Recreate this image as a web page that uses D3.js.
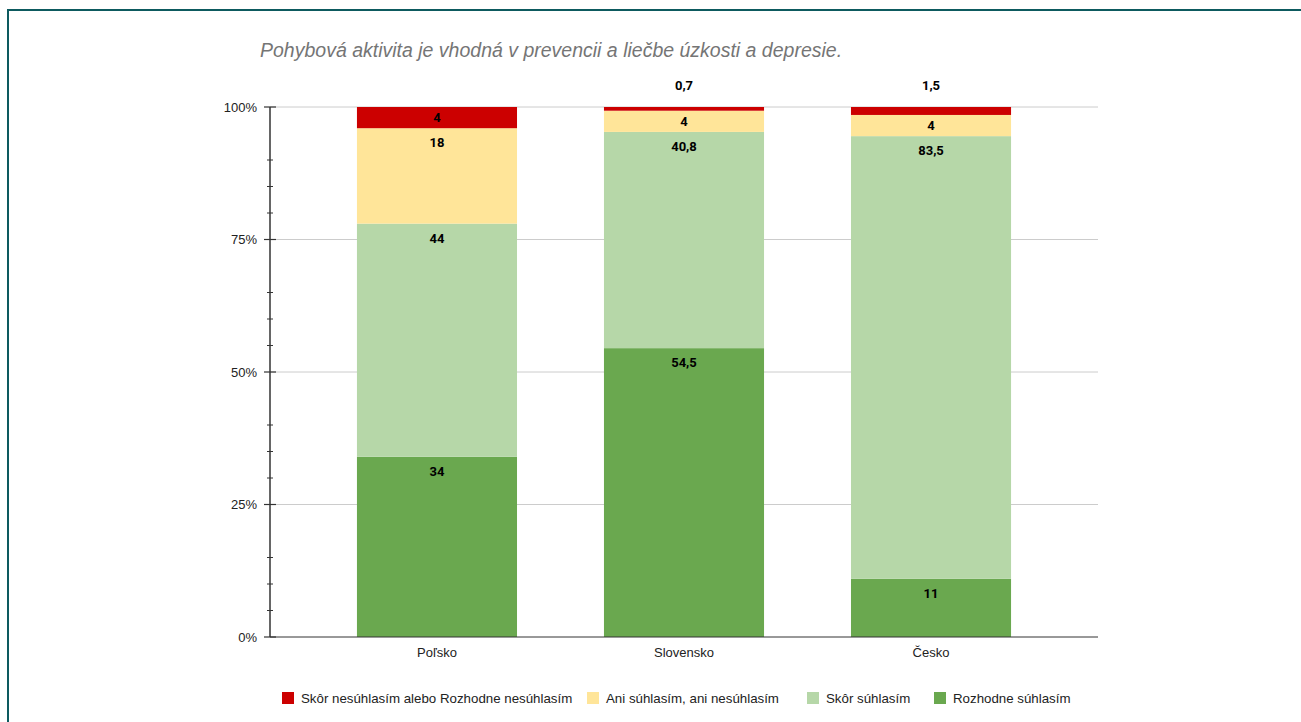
<!DOCTYPE html>
<html><head><meta charset="utf-8">
<script src="https://cdn.jsdelivr.net/npm/d3@7"></script>
<style>
html,body{margin:0;padding:0;background:#fff;}
svg{display:block;}
</style></head>
<body>
<svg id="chart" width="1301" height="722"></svg>
<script>
const title = "Pohybová aktivita je vhodná v prevencii a liečbe úzkosti a depresie.";
const categories = ["Poľsko", "Slovensko", "Česko"];
const seriesNames = ["Rozhodne súhlasím", "Skôr súhlasím", "Ani súhlasím, ani nesúhlasím", "Skôr nesúhlasím alebo Rozhodne nesúhlasím"];
const rozhodneSuhlasim = [34, 54.5, 11];
const skorSuhlasim = [44, 40.8, 83.5];
const aniAni = [18, 4, 4];
const nesuhlasim = [4, 0.7, 1.5];
const seriesColors = ["#6aa84f", "#b6d7a8", "#ffe599", "#cc0000"];
const legendOrder = [3, 2, 1, 0];
const yTicks = [0, 25, 50, 75, 100];
const yMinorTicks = [5, 10, 15, 30, 35, 40, 55, 60, 65, 80, 85, 90];

const seriesValues = [rozhodneSuhlasim, skorSuhlasim, aniAni, nesuhlasim];
const rows = categories.map((c, i) => {
  const r = {cat: c};
  seriesNames.forEach((s, j) => r[s] = seriesValues[j][i]);
  return r;
});
const stacked = d3.stack().keys(seriesNames)(rows);

const svg = d3.select("#chart");
// outer frame
svg.append("rect").attr("x", 8).attr("y", 10).attr("width", 1400).attr("height", 800)
  .attr("fill", "none").attr("stroke", "#0d5a5f").attr("stroke-width", 2);

const pLeft = 270, pRight = 1098, pTop = 107, pBottom = 637;
const x = d3.scaleBand().domain(categories).range([pLeft, pRight]).padding(0.352);
const y = d3.scaleLinear().domain([0, 100]).range([pBottom, pTop]);

// title
svg.append("text").attr("x", 260).attr("y", 57).text(title)
  .attr("font-family", "Liberation Sans, Arial, sans-serif").attr("font-style", "italic")
  .attr("font-size", 19.5).attr("fill", "#757575");

// gridlines
svg.append("g").selectAll("line").data(yTicks.filter(t => t > 0)).join("line")
  .attr("x1", pLeft).attr("x2", pRight).attr("y1", d => y(d)).attr("y2", d => y(d))
  .attr("stroke", "#cccccc").attr("stroke-width", 1);

// bars
const g = svg.append("g");
stacked.forEach((layer, j) => {
  g.append("g").attr("fill", seriesColors[j]).selectAll("rect").data(layer).join("rect")
    .attr("x", d => x(d.data.cat)).attr("width", x.bandwidth())
    .attr("y", d => y(d[1])).attr("height", d => y(d[0]) - y(d[1]));
});

// labels
const labelFmt = v => String(v).replace(".", ",");
stacked.forEach((layer, j) => {
  layer.forEach(d => {
    const v = d[1] - d[0];
    const yt = y(d[1]), yb = y(d[0]);
    const h = yb - yt;
    let cy;
    if (h < 12) cy = pTop - 22;
    else cy = Math.min(yt + 14.5, (yt + yb) / 2);
    svg.append("text").attr("x", x(d.data.cat) + x.bandwidth() / 2).attr("y", cy)
      .attr("dy", "0.36em").attr("text-anchor", "middle")
      .attr("font-family", "Roboto, sans-serif").attr("font-weight", "bold")
      .attr("font-size", 13).attr("fill", "#000").text(labelFmt(Math.round(v * 10) / 10));
  });
});

// y axis
const yAxisG = svg.append("g");
yAxisG.append("line").attr("x1", pLeft).attr("x2", pLeft).attr("y1", pTop).attr("y2", pBottom)
  .attr("stroke", "#333").attr("stroke-width", 1.5);
yAxisG.selectAll(".maj").data(yTicks).join("line").attr("class", "maj")
  .attr("x1", pLeft - 6).attr("x2", pLeft + 6).attr("y1", d => y(d)).attr("y2", d => y(d))
  .attr("stroke", "#333").attr("stroke-width", 1.2);
yAxisG.selectAll(".min").data(yMinorTicks).join("line").attr("class", "min")
  .attr("x1", pLeft - 3).attr("x2", pLeft + 3).attr("y1", d => y(d)).attr("y2", d => y(d))
  .attr("stroke", "#333").attr("stroke-width", 1);
yAxisG.selectAll("text").data(yTicks).join("text")
  .attr("x", pLeft - 13).attr("y", d => y(d)).attr("dy", "0.36em").attr("text-anchor", "end")
  .attr("font-family", "Liberation Sans, Arial, sans-serif").attr("font-size", 13)
  .attr("fill", "#222").text(d => d + "%");

// x axis baseline
svg.append("line").attr("x1", pLeft).attr("x2", pRight).attr("y1", pBottom).attr("y2", pBottom)
  .attr("stroke", "#333").attr("stroke-width", 1);
svg.append("g").selectAll("text").data(categories).join("text")
  .attr("x", d => x(d) + x.bandwidth() / 2).attr("y", 657).attr("text-anchor", "middle")
  .attr("font-family", "Liberation Sans, Arial, sans-serif").attr("font-size", 13)
  .attr("fill", "#222").text(d => d);

// legend
const legendX = [282, 587, 807, 934];
const ly = 692;
legendOrder.forEach((j, k) => {
  const lx = legendX[k];
  svg.append("rect").attr("x", lx).attr("y", ly).attr("width", 12).attr("height", 12)
    .attr("fill", seriesColors[j]);
  svg.append("text").attr("x", lx + 19).attr("y", ly + 6).attr("dy", "0.36em")
    .attr("font-family", "Liberation Sans, Arial, sans-serif").attr("font-size", 13.3)
    .attr("fill", "#222").text(seriesNames[j]);
});
</script>
</body></html>
